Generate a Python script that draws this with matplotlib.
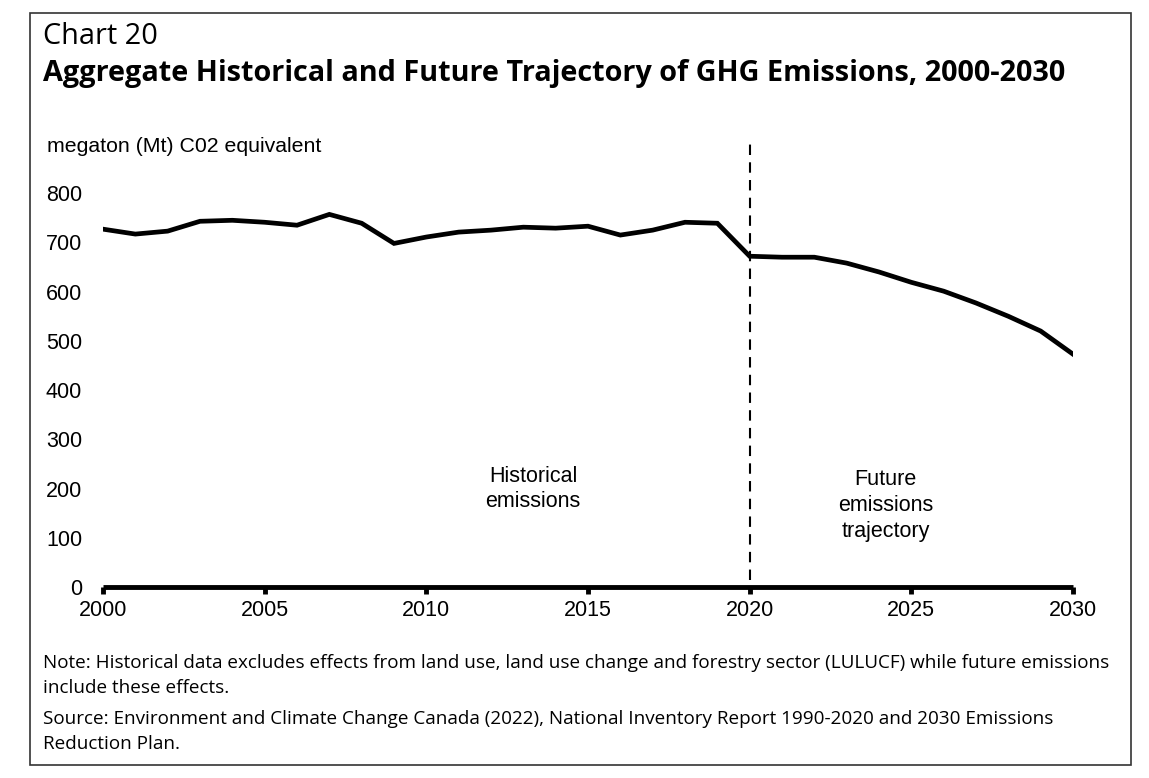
import matplotlib.pyplot as plt
from matplotlib.patches import Rectangle

years = list(range(2000, 2031))
emissions = [727, 717, 723, 743, 745, 741, 735, 757, 739, 698,
             711, 721, 725, 731, 729, 733, 715, 725, 741, 739,
             672, 670, 670, 658, 640, 619, 601, 577, 550, 520, 473]
split_year = 2020
yticks = [0, 100, 200, 300, 400, 500, 600, 700, 800]
xticks = [2000, 2005, 2010, 2015, 2020, 2025, 2030]

W, H = 1149, 778
fig = plt.figure(figsize=(W / 100, H / 100), dpi=100)

# axes: y=0 at px 587, y=900 at px ~144
ax = fig.add_axes([103 / W, 1 - 587 / H, (1073 - 103) / W, (587 - 144) / H])
ax.plot(years, emissions, color='black', lw=3.4, solid_joinstyle='miter')
ax.plot([split_year, split_year], [15, 900], color='black', lw=1.5,
        linestyle=(0, (5, 3.5)))
ax.set_xlim(2000, 2030)
ax.set_ylim(0, 900)
ax.set_yticks(yticks)
ax.set_xticks(xticks)
for s in ['top', 'right', 'left']:
    ax.spines[s].set_visible(False)
ax.spines['bottom'].set_linewidth(3.5)
ax.spines['bottom'].set_capstyle('butt')
ax.tick_params(axis='y', length=0, pad=15, labelsize=15.5)
ax.tick_params(axis='x', length=5, width=3.5, pad=4, labelsize=15.5)
for lab in ax.get_xticklabels() + ax.get_yticklabels():
    lab.set_fontfamily('Liberation Sans')

ax.text(2013.3, 199, 'Historical\nemissions', ha='center', va='center',
        fontsize=15.5, family='Liberation Sans', linespacing=1.3)
ax.text(2024.2, 166, 'Future\nemissions\ntrajectory', ha='center', va='center',
        fontsize=15.5, family='Liberation Sans', linespacing=1.3)

fig.text(47 / W, 1 - 147 / H, 'megaton (Mt) C02 equivalent', ha='left', va='center',
         fontsize=15.3, family='Liberation Sans')

fig.text(43 / W, 1 - 37 / H, 'Chart 20', ha='left', va='center',
         fontsize=20.8, family='Open Sans')
fig.text(43 / W, 1 - 74 / H,
         'Aggregate Historical and Future Trajectory of GHG Emissions, 2000-2030',
         ha='left', va='center', fontsize=20.8, family='Open Sans', fontweight='bold')

note_size = 13.6
fig.text(43 / W, 1 - 663 / H,
         'Note: Historical data excludes effects from land use, land use change and forestry sector (LULUCF) while future emissions',
         ha='left', va='center', fontsize=note_size, family='Open Sans')
fig.text(43 / W, 1 - 688 / H, 'include these effects.',
         ha='left', va='center', fontsize=note_size, family='Open Sans')
fig.text(43 / W, 1 - 719 / H,
         'Source: Environment and Climate Change Canada (2022), National Inventory Report 1990-2020 and 2030 Emissions',
         ha='left', va='center', fontsize=note_size, family='Open Sans')
fig.text(43 / W, 1 - 744 / H, 'Reduction Plan.',
         ha='left', va='center', fontsize=note_size, family='Open Sans')

fig.patches.append(Rectangle((30 / W, 1 - 765 / H), (1131 - 30) / W, (765 - 13) / H,
                             transform=fig.transFigure, fill=False,
                             edgecolor='#333333', lw=1.2))

fig.savefig('out.png', dpi=100)
